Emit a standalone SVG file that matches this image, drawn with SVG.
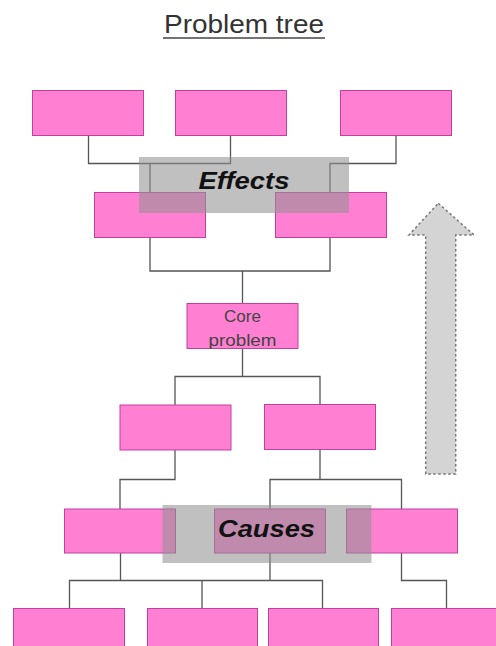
<svg xmlns="http://www.w3.org/2000/svg" width="496" height="646" viewBox="0 0 496 646">
<style>
.box{fill:#ff80d2;stroke:#c040a0;stroke-width:1}
.ln{fill:none;stroke:#555;stroke-width:1.3}
.ov{fill:#919191;fill-opacity:0.575}
.lbl{font-family:"Liberation Sans",Arial,sans-serif;font-weight:bold;font-style:italic;fill:#111;text-anchor:middle}
.core{font-family:"Liberation Sans",Arial,sans-serif;font-size:17px;fill:#444;text-anchor:middle}
</style>
<rect width="496" height="646" fill="#fff"/>
<g id="title">
<text x="244" y="33" font-family="'Liberation Sans',Arial,sans-serif" font-size="25" fill="#333" text-anchor="middle" textLength="160" lengthAdjust="spacingAndGlyphs">Problem tree</text>
<line x1="163" y1="38" x2="325" y2="38" stroke="#444" stroke-width="1.5"/>
</g>
<g id="arrow">
<path d="M438.3,203.3 L474,235 L455.7,235 L455.7,474 L425.7,474 L425.7,235 L409,235 Z" fill="#d4d4d4" stroke="#777" stroke-width="1.5" stroke-dasharray="2.5,2.5"/>
</g>
<g id="connectors">
<path class="ln" d="M88.5,135 V163.5 H230.5 V135 M150,163.5 V192"/>
<path class="ln" d="M396,135 V163.5 H330 V192"/>
<path class="ln" d="M150,237 V271 H330 V237 M242.5,271 V303"/>
<path class="ln" d="M242.5,348 V376.5 H175 V405 M242.5,376.5 H320 V405"/>
<path class="ln" d="M175,450 V479.5 H120 V509"/>
<path class="ln" d="M320,450 V479.5 H270 V509 M320,479.5 H401.5 V509"/>
<path class="ln" d="M120.5,553 V580.5 H69.5 V608 M120.5,580.5 H322.5 V608 M202,580.5 V608 M270,553 V580.5"/>
<path class="ln" d="M401.5,553 V580.5 H446.5 V608"/>
</g>
<g id="effect1"><rect class="box" x="32.5" y="90.5" width="111" height="45"/></g>
<g id="effect2"><rect class="box" x="175.5" y="90.5" width="111" height="45"/></g>
<g id="effect3"><rect class="box" x="340.5" y="90.5" width="111" height="45"/></g>
<g id="effect4"><rect class="box" x="94.5" y="192.5" width="111" height="45"/></g>
<g id="effect5"><rect class="box" x="275.5" y="192.5" width="111" height="45"/></g>
<g id="effects-label">
<rect class="ov" x="139" y="157" width="210" height="56"/>
<text class="lbl" x="244" y="189" font-size="23" textLength="91" lengthAdjust="spacingAndGlyphs">Effects</text>
</g>
<g id="core">
<rect class="box" x="187" y="303.5" width="111" height="45"/>
<text class="core" x="242.5" y="322">Core</text>
<text class="core" x="242.5" y="345.5" textLength="68" lengthAdjust="spacingAndGlyphs">problem</text>
</g>
<g id="cause1"><rect class="box" x="120" y="405" width="111" height="45"/></g>
<g id="cause2"><rect class="box" x="264.5" y="404.5" width="111" height="45"/></g>
<g id="cause3"><rect class="box" x="64.5" y="509" width="111" height="44"/></g>
<g id="cause4"><rect class="box" x="214.5" y="509" width="111" height="44"/></g>
<g id="cause5"><rect class="box" x="346.5" y="509" width="111" height="44"/></g>
<g id="causes-label">
<rect class="ov" x="162.5" y="505" width="209" height="58"/>
<text class="lbl" x="266.5" y="537" font-size="24" textLength="97" lengthAdjust="spacingAndGlyphs">Causes</text>
</g>
<g id="cause6"><rect class="box" x="13.5" y="608.5" width="111" height="45"/></g>
<g id="cause7"><rect class="box" x="147.5" y="608.5" width="110" height="45"/></g>
<g id="cause8"><rect class="box" x="268.5" y="608.5" width="110" height="45"/></g>
<g id="cause9"><rect class="box" x="391.5" y="608.5" width="111" height="45"/></g>
</svg>
